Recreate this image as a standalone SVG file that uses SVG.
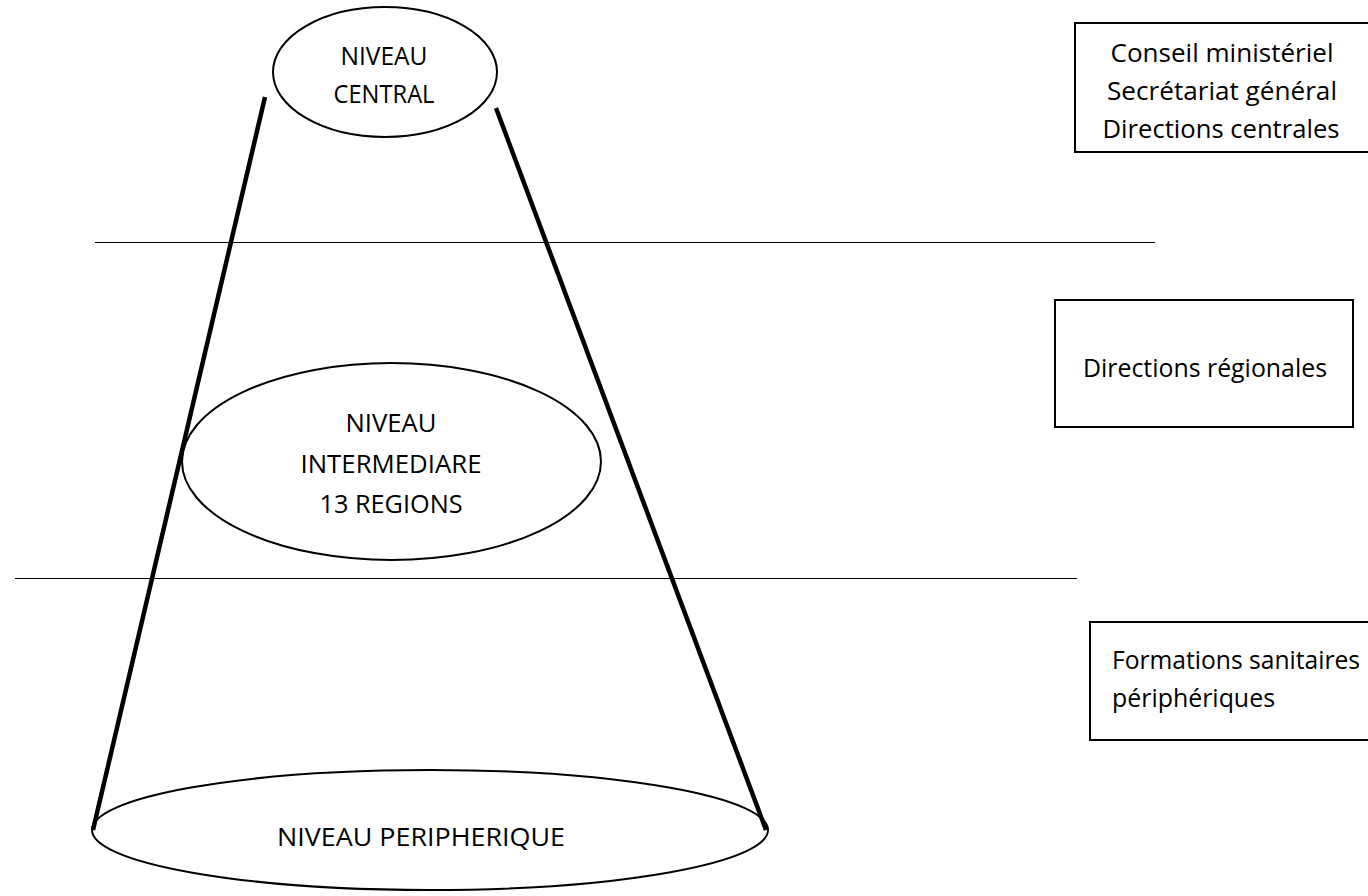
<svg xmlns="http://www.w3.org/2000/svg" width="1368" height="896" viewBox="0 0 1368 896">
<style>
.t{font-family:"Open Sans","Liberation Sans",sans-serif;font-size:25px;fill:#000}
.m{text-anchor:middle}
.e{fill:none;stroke:#000;stroke-width:2}
.b{fill:none;stroke:#000;stroke-width:2}
.h{stroke:#000;stroke-width:1}
.c{stroke:#000;stroke-width:4.5;stroke-linecap:butt}
</style>
<rect width="1368" height="896" fill="#fff"/>
<g id="connectors">
<line class="h" x1="95" y1="242.5" x2="1155" y2="242.5"/>
<line class="h" x1="15" y1="578.5" x2="1077" y2="578.5"/>
<line class="c" x1="265" y1="97" x2="93" y2="830"/>
<line class="c" x1="496" y1="108" x2="766" y2="830"/>
</g>
<g id="niveau-central">
<ellipse class="e" cx="385" cy="72" rx="112" ry="65"/>
<text class="t m" x="384" y="65" textLength="87" lengthAdjust="spacingAndGlyphs">NIVEAU</text>
<text class="t m" x="384" y="103" textLength="101" lengthAdjust="spacingAndGlyphs">CENTRAL</text>
</g>
<g id="niveau-intermediaire">
<ellipse class="e" cx="391.5" cy="461.5" rx="209.5" ry="98.5"/>
<text class="t m" x="391" y="432" textLength="91" lengthAdjust="spacingAndGlyphs">NIVEAU</text>
<text class="t m" x="391" y="473" textLength="181" lengthAdjust="spacingAndGlyphs">INTERMEDIARE</text>
<text class="t m" x="391" y="513" textLength="143" lengthAdjust="spacingAndGlyphs">13 REGIONS</text>
</g>
<g id="niveau-peripherique">
<ellipse class="e" cx="430" cy="830" rx="338" ry="60"/>
<text class="t m" x="421" y="846" textLength="288" lengthAdjust="spacingAndGlyphs">NIVEAU PERIPHERIQUE</text>
</g>
<g id="box-central">
<rect class="b" x="1075" y="23" width="310" height="129"/>
<text class="t m" x="1222" y="62" textLength="223" lengthAdjust="spacingAndGlyphs">Conseil ministériel</text>
<text class="t m" x="1222" y="100" textLength="230" lengthAdjust="spacingAndGlyphs">Secrétariat général</text>
<text class="t m" x="1221" y="138" textLength="237" lengthAdjust="spacingAndGlyphs">Directions centrales</text>
</g>
<g id="box-regional">
<rect class="b" x="1055" y="300" width="298" height="127"/>
<text class="t m" x="1205" y="377" textLength="244" lengthAdjust="spacingAndGlyphs">Directions régionales</text>
</g>
<g id="box-peripherique">
<rect class="b" x="1090" y="622" width="300" height="118"/>
<text class="t" x="1112" y="669" textLength="248" lengthAdjust="spacingAndGlyphs">Formations sanitaires</text>
<text class="t" x="1112" y="707" textLength="163" lengthAdjust="spacingAndGlyphs">périphériques</text>
</g>
</svg>
